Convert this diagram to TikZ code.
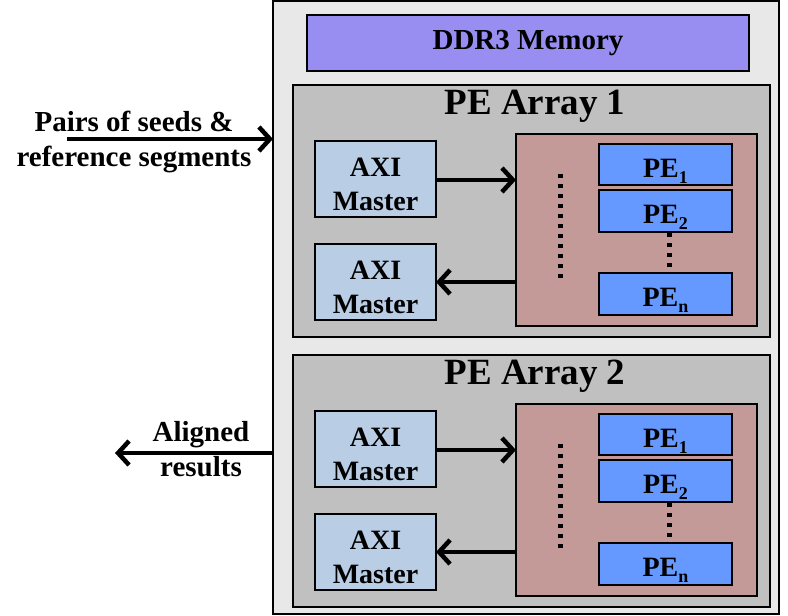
\documentclass[tikz,border=0pt]{standalone}
\usepackage{fontspec}
\setmainfont{Liberation Serif}
\usetikzlibrary{arrows.meta}
\definecolor{outerfill}{RGB}{232,232,232}
\definecolor{arrfill}{RGB}{192,192,192}
\definecolor{ddrfill}{RGB}{152,142,242}
\definecolor{pinkfill}{RGB}{196,154,152}
\definecolor{pefill}{RGB}{102,153,255}
\definecolor{axifill}{RGB}{185,205,229}
\newcommand{\pesub}[1]{PE\raisebox{-6pt}{\fontsize{18}{18}\selectfont #1}}
\newcommand{\axitext}{\rule{0pt}{30pt}AXI\\Master}
\begin{document}
\begin{tikzpicture}[x=1pt,y=-1pt,
  blk/.style={draw=black, line width=1.6pt, rectangle, inner sep=0pt, outer sep=0pt,
    font=\fontsize{29}{34}\selectfont\bfseries, align=center},
  pebox/.style={blk, fill=pefill, minimum width=133pt, minimum height=42pt,
    text height=31pt, text depth=6pt, font=\fontsize{28}{30}\selectfont\bfseries},
  axibox/.style={blk, fill=axifill, minimum width=121pt, minimum height=76pt,
    font=\fontsize{28}{34}\selectfont\bfseries},
  lbl/.style={inner sep=0pt, font=\fontsize{29}{35}\selectfont\bfseries, align=center},
  ttl/.style={inner sep=0pt, font=\fontsize{37}{40}\selectfont\bfseries},
  bigarrow/.style={line width=4.5pt, -{Straight Barb[length=11pt,width=24pt]}},
  dotline/.style={line width=5pt, dash pattern=on 4pt off 6pt}]
\useasboundingbox (0,0) rectangle (788,616);

\node[blk, fill=outerfill, minimum width=506pt, minimum height=613pt] (outer) at (526,307.5) {};
\node[blk, fill=ddrfill, minimum width=442pt, minimum height=56pt] (ddr) at (528,43) {DDR3 Memory};

\foreach \k/\dy in {1/0,2/270}{
  \node[blk, fill=arrfill, minimum width=477pt, minimum height=252pt] (arr\k) at (531.5,211+\dy) {};
  \node[ttl] (ttl\k) at (535,106+\dy) {PE Array \k};
  \node[blk, fill=pinkfill, minimum width=241pt, minimum height=192pt] (pink\k) at (636.5,230+\dy) {};
  \node[pebox, minimum height=41pt] (peA\k) at (665.5,164.5+\dy) {\pesub{1}};
  \node[pebox] (peB\k) at (665.5,211+\dy) {\pesub{2}};
  \node[pebox] (peN\k) at (665.5,294+\dy) {\pesub{n}};
  \node[axibox] (axiA\k) at (375.5,179+\dy) {\axitext};
  \node[axibox] (axiB\k) at (375.5,282+\dy) {\axitext};
  \coordinate (dtop\k) at (560.5,174+\dy);
  \coordinate (dbot\k) at (560.5,280+\dy);
  \draw[dotline] (dtop\k) -- (dbot\k);
  \draw[dotline] ([xshift=3.5pt,yshift=-1pt]peB\k.south) -- ([xshift=3.5pt,yshift=5pt]peN\k.north);
  \draw[bigarrow] ([yshift=-1pt]axiA\k.east) -- ([yshift=-1pt]axiA\k.east -| pink\k.west);
  \draw[bigarrow] (pink\k.west |- axiB\k.east) -- (axiB\k.east);
}

\coordinate (inStart) at (67,139);
\coordinate (outEnd) at (115,453);
\node[lbl] (inLbl) at (134,141.5) {Pairs of seeds \&\\reference segments};
\node[lbl] (outLbl) at (201,449.5) {Aligned\\results};
\draw[bigarrow] (inStart) -- (inStart -| outer.west);
\draw[bigarrow] (outEnd -| outer.west) -- (outEnd);
\end{tikzpicture}
\end{document}
